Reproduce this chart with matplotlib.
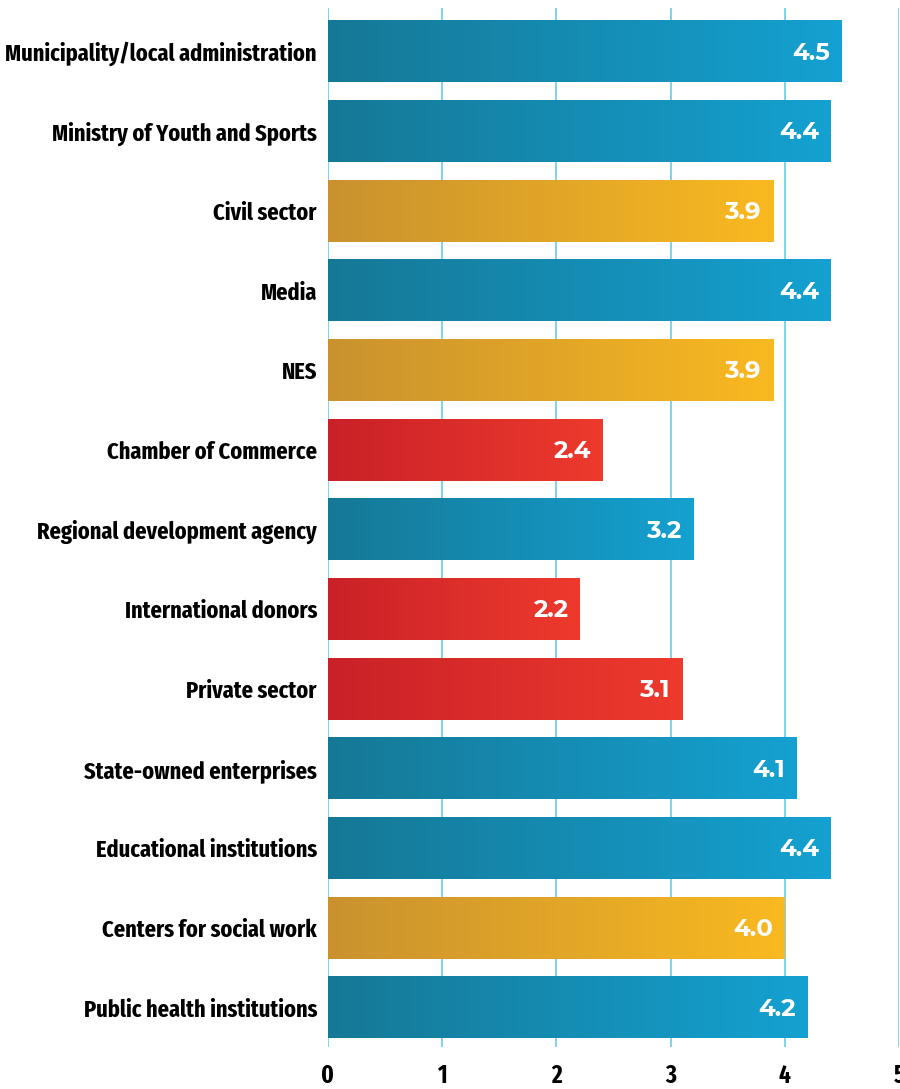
import numpy as np
import matplotlib
matplotlib.use("Agg")
import matplotlib.pyplot as plt
from matplotlib.colors import LinearSegmentedColormap

institutions = [
    "Municipality/local administration",
    "Ministry of Youth and Sports",
    "Civil sector",
    "Media",
    "NES",
    "Chamber of Commerce",
    "Regional development agency",
    "International donors",
    "Private sector",
    "State-owned enterprises",
    "Educational institutions",
    "Centers for social work",
    "Public health institutions",
]
scores = [4.5, 4.4, 3.9, 4.4, 3.9, 2.4, 3.2, 2.2, 3.1, 4.1, 4.4, 4.0, 4.2]
groups = ["blue", "blue", "gold", "blue", "gold", "red", "blue",
          "red", "red", "blue", "blue", "gold", "blue"]
ticks = [0, 1, 2, 3, 4, 5]

gradients = {
    "blue": ("#167896", "#14a1d1"),
    "gold": ("#c9922f", "#f9b920"),
    "red": ("#c92128", "#ee3a2d"),
}

label_font = ["Fira Sans Extra Condensed", "Roboto Condensed", "DejaVu Sans"]
value_font = ["Montserrat Alternates", "DejaVu Sans"]

fig = plt.figure(figsize=(9, 10.89), dpi=100)
ax = fig.add_axes([328 / 900, 1 - 1047 / 1089, 571 / 900, 1039 / 1089])

# each bar is a horizontal gradient image clipped to its own extent
bar_h = 0.77
ramp = np.linspace(0, 1, 256).reshape(1, -1)
for i, (v, g) in enumerate(zip(scores, groups)):
    cmap = LinearSegmentedColormap.from_list(g, gradients[g])
    ax.imshow(ramp, cmap=cmap, aspect="auto", interpolation="bilinear",
              extent=[0, v, i + bar_h / 2, i - bar_h / 2], zorder=2)
    ax.text(v - 0.1, i + 0.02, f"{v:.1f}", color="white", fontsize=17.5,
            fontweight="bold", ha="right", va="center", zorder=3,
            family=value_font)

ax.set_xlim(0, 5)
ax.set_ylim(12.495, -0.546)

for x in ticks:
    ax.axvline(x, color="#7fd2ee", lw=1.4, zorder=1)

for s in ax.spines.values():
    s.set_visible(False)

ax.set_yticks(range(len(institutions)))
ax.set_yticklabels(institutions, fontsize=17.5, fontweight="bold", family=label_font)
ax.set_xticks(ticks)
ax.set_xticklabels([str(t) for t in ticks], fontsize=18, fontweight="bold", family=label_font)
ax.tick_params(axis="y", length=0, pad=8)
ax.tick_params(axis="x", length=0, pad=12)

fig.savefig("out.png", dpi=100)
